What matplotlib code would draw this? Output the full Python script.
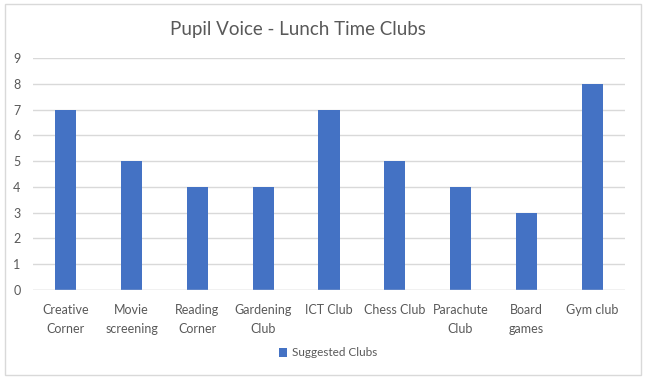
import matplotlib
matplotlib.use("Agg")
import matplotlib.pyplot as plt
from matplotlib.patches import Rectangle

categories = ["Creative\nCorner", "Movie\nscreening", "Reading\nCorner", "Gardening\nClub",
              "ICT Club", "Chess Club", "Parachute\nClub", "Board\ngames", "Gym club"]
values = [7, 5, 4, 4, 7, 5, 4, 3, 8]
yticks = list(range(0, 10))
title = "Pupil Voice - Lunch Time Clubs"
series_name = "Suggested Clubs"

plt.rcParams['font.family'] = ['Lato', 'DejaVu Sans']
txt = "#595959"

fig = plt.figure(figsize=(6.47, 3.82), dpi=100)
fig.patches.append(Rectangle((5/647, 1-375/382), 636/647, 371/382, transform=fig.transFigure,
                             fill=False, edgecolor="#D9D9D9", linewidth=1))
ax = fig.add_axes([33/647, 1-290/382, (625-33)/647, (290-58)/382])
x = range(len(categories))
ax.bar(x, values, width=0.32, color="#4472C4", label=series_name, zorder=3)
ax.set_xlim(-0.5, len(categories)-0.5)
ax.set_ylim(0, 9)
ax.set_yticks(yticks)
ax.set_xticks(list(x))
ax.set_xticklabels(categories, fontsize=9, color=txt, linespacing=1.75)
ax.tick_params(axis='y', labelsize=9, labelcolor=txt, length=0, pad=9)
ax.tick_params(axis='x', length=0, pad=10)
ax.grid(axis='y', color="#D9D9D9", linewidth=1, zorder=0)
for s in ax.spines.values():
    s.set_visible(False)
ax.axhline(0, color="#D9D9D9", linewidth=1, zorder=4)
fig.text(298/647, 1-29/382, title, ha='center', va='center', fontsize=13.5, color=txt)
fig.legend(loc='center', bbox_to_anchor=(328/647, 1-353/382), frameon=False, fontsize=8.5,
           labelcolor=txt, handlelength=0.7, handleheight=0.7, handletextpad=0.4)
fig.savefig("out.png", dpi=100)
